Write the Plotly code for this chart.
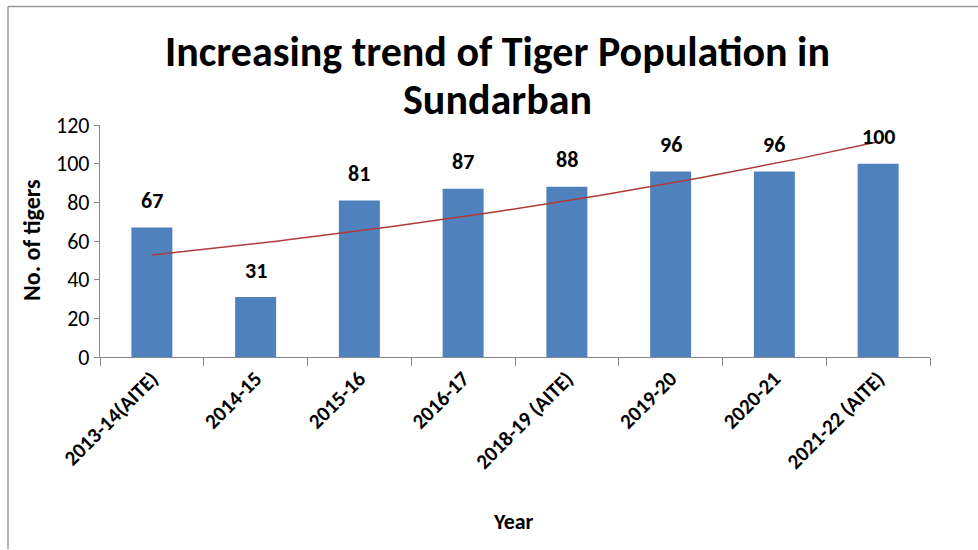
import numpy as np
import plotly.graph_objects as go

years = ["2013-14(AITE)", "2014-15", "2015-16", "2016-17", "2018-19 (AITE)",
         "2019-20", "2020-21", "2021-22 (AITE)"]
tigers = [67, 31, 81, 87, 88, 96, 96, 100]
y_ticks = [0, 20, 40, 60, 80, 100, 120]
title_lines = ["Increasing trend of Tiger Population in", "Sundarban"]

FONT = "Carlito, Lato, 'Open Sans', sans-serif"

# Exponential trendline (as in Excel), fitted on category index 1..n
xi = np.arange(1, len(tigers) + 1)
b, a = np.polyfit(xi, np.log(tigers), 1)
xt = np.linspace(1, len(tigers), 100)
yt = np.exp(a + b * xt)

fig = go.Figure()
fig.add_trace(go.Bar(x=years, y=tigers, marker_color="#4F81BD", marker_line_width=0,
                     showlegend=False, hoverinfo="x+y"))
fig.add_trace(go.Scatter(x=xt, y=yt, xaxis="x2", mode="lines",
                         line=dict(color="#B03A3A", width=1.5), showlegend=False,
                         hoverinfo="skip"))

for c, v in zip(years, tigers):
    fig.add_annotation(x=c, y=v, text=f"<b>{v}</b>", showarrow=False, yshift=27,
                       font=dict(family=FONT, size=22, color="#000"))

L, R, T, B = 100, 48, 125, 193
W, H = 978, 550
pw, ph = W - L - R, H - T - B

def py(ypix):
    return 1 + (T - ypix) / ph

def px(xpix):
    return (xpix - L) / pw

# Title lines
for txt, yc in zip(title_lines, [52, 100]):
    fig.add_annotation(xref="paper", yref="paper", x=px(497), y=py(yc), xanchor="center",
                       yanchor="middle", showarrow=False, text=f"<b>{txt}</b>",
                       font=dict(family=FONT, size=42, color="#000"))

# Axis titles
fig.add_annotation(xref="paper", yref="paper", x=px(31), y=py(240), textangle=-90,
                   xanchor="center", yanchor="middle", showarrow=False,
                   text="<b>No. of tigers</b>", font=dict(family=FONT, size=24, color="#000"))
fig.add_annotation(xref="paper", yref="paper", x=px(513), y=py(521), xanchor="center",
                   yanchor="middle", showarrow=False, text="<b>Year</b>",
                   font=dict(family=FONT, size=22, color="#000"))

fig.update_layout(
    width=W, height=H,
    margin=dict(l=L, r=R, t=T, b=B),
    paper_bgcolor="white", plot_bgcolor="white",
    font=dict(family=FONT, color="#000"),
    bargap=0.605,
    xaxis=dict(type="category", showline=True, linecolor="#868686", linewidth=1.3,
               ticks="outside", tickson="boundaries", ticklen=8, tickcolor="#868686",
               tickangle=-45, tickfont=dict(family=FONT, size=21, color="#000", weight="bold"),
               showgrid=False, zeroline=False),
    xaxis2=dict(overlaying="x", range=[0.5, len(tigers) + 0.5], visible=False),
    yaxis=dict(range=[0, 120], tickvals=y_ticks, showline=True, linecolor="#868686",
               linewidth=1.3, ticks="outside", ticklen=5, tickcolor="#868686",
               tickfont=dict(family=FONT, size=22, color="#000"),
               showgrid=False, zeroline=False),
)

# Chart frame (left and top edges visible in the reference)
fx0 = px(8)
fy_top = py(6.5)
fig.add_shape(type="line", xref="paper", yref="paper", x0=fx0, x1=px(W),
              y0=fy_top, y1=fy_top, line=dict(color="#9a9a9a", width=1.5))
fig.add_shape(type="line", xref="paper", yref="paper", x0=fx0, x1=fx0,
              y0=fy_top, y1=py(H - 1), line=dict(color="#9a9a9a", width=1.5))

fig.write_html("out.html")
